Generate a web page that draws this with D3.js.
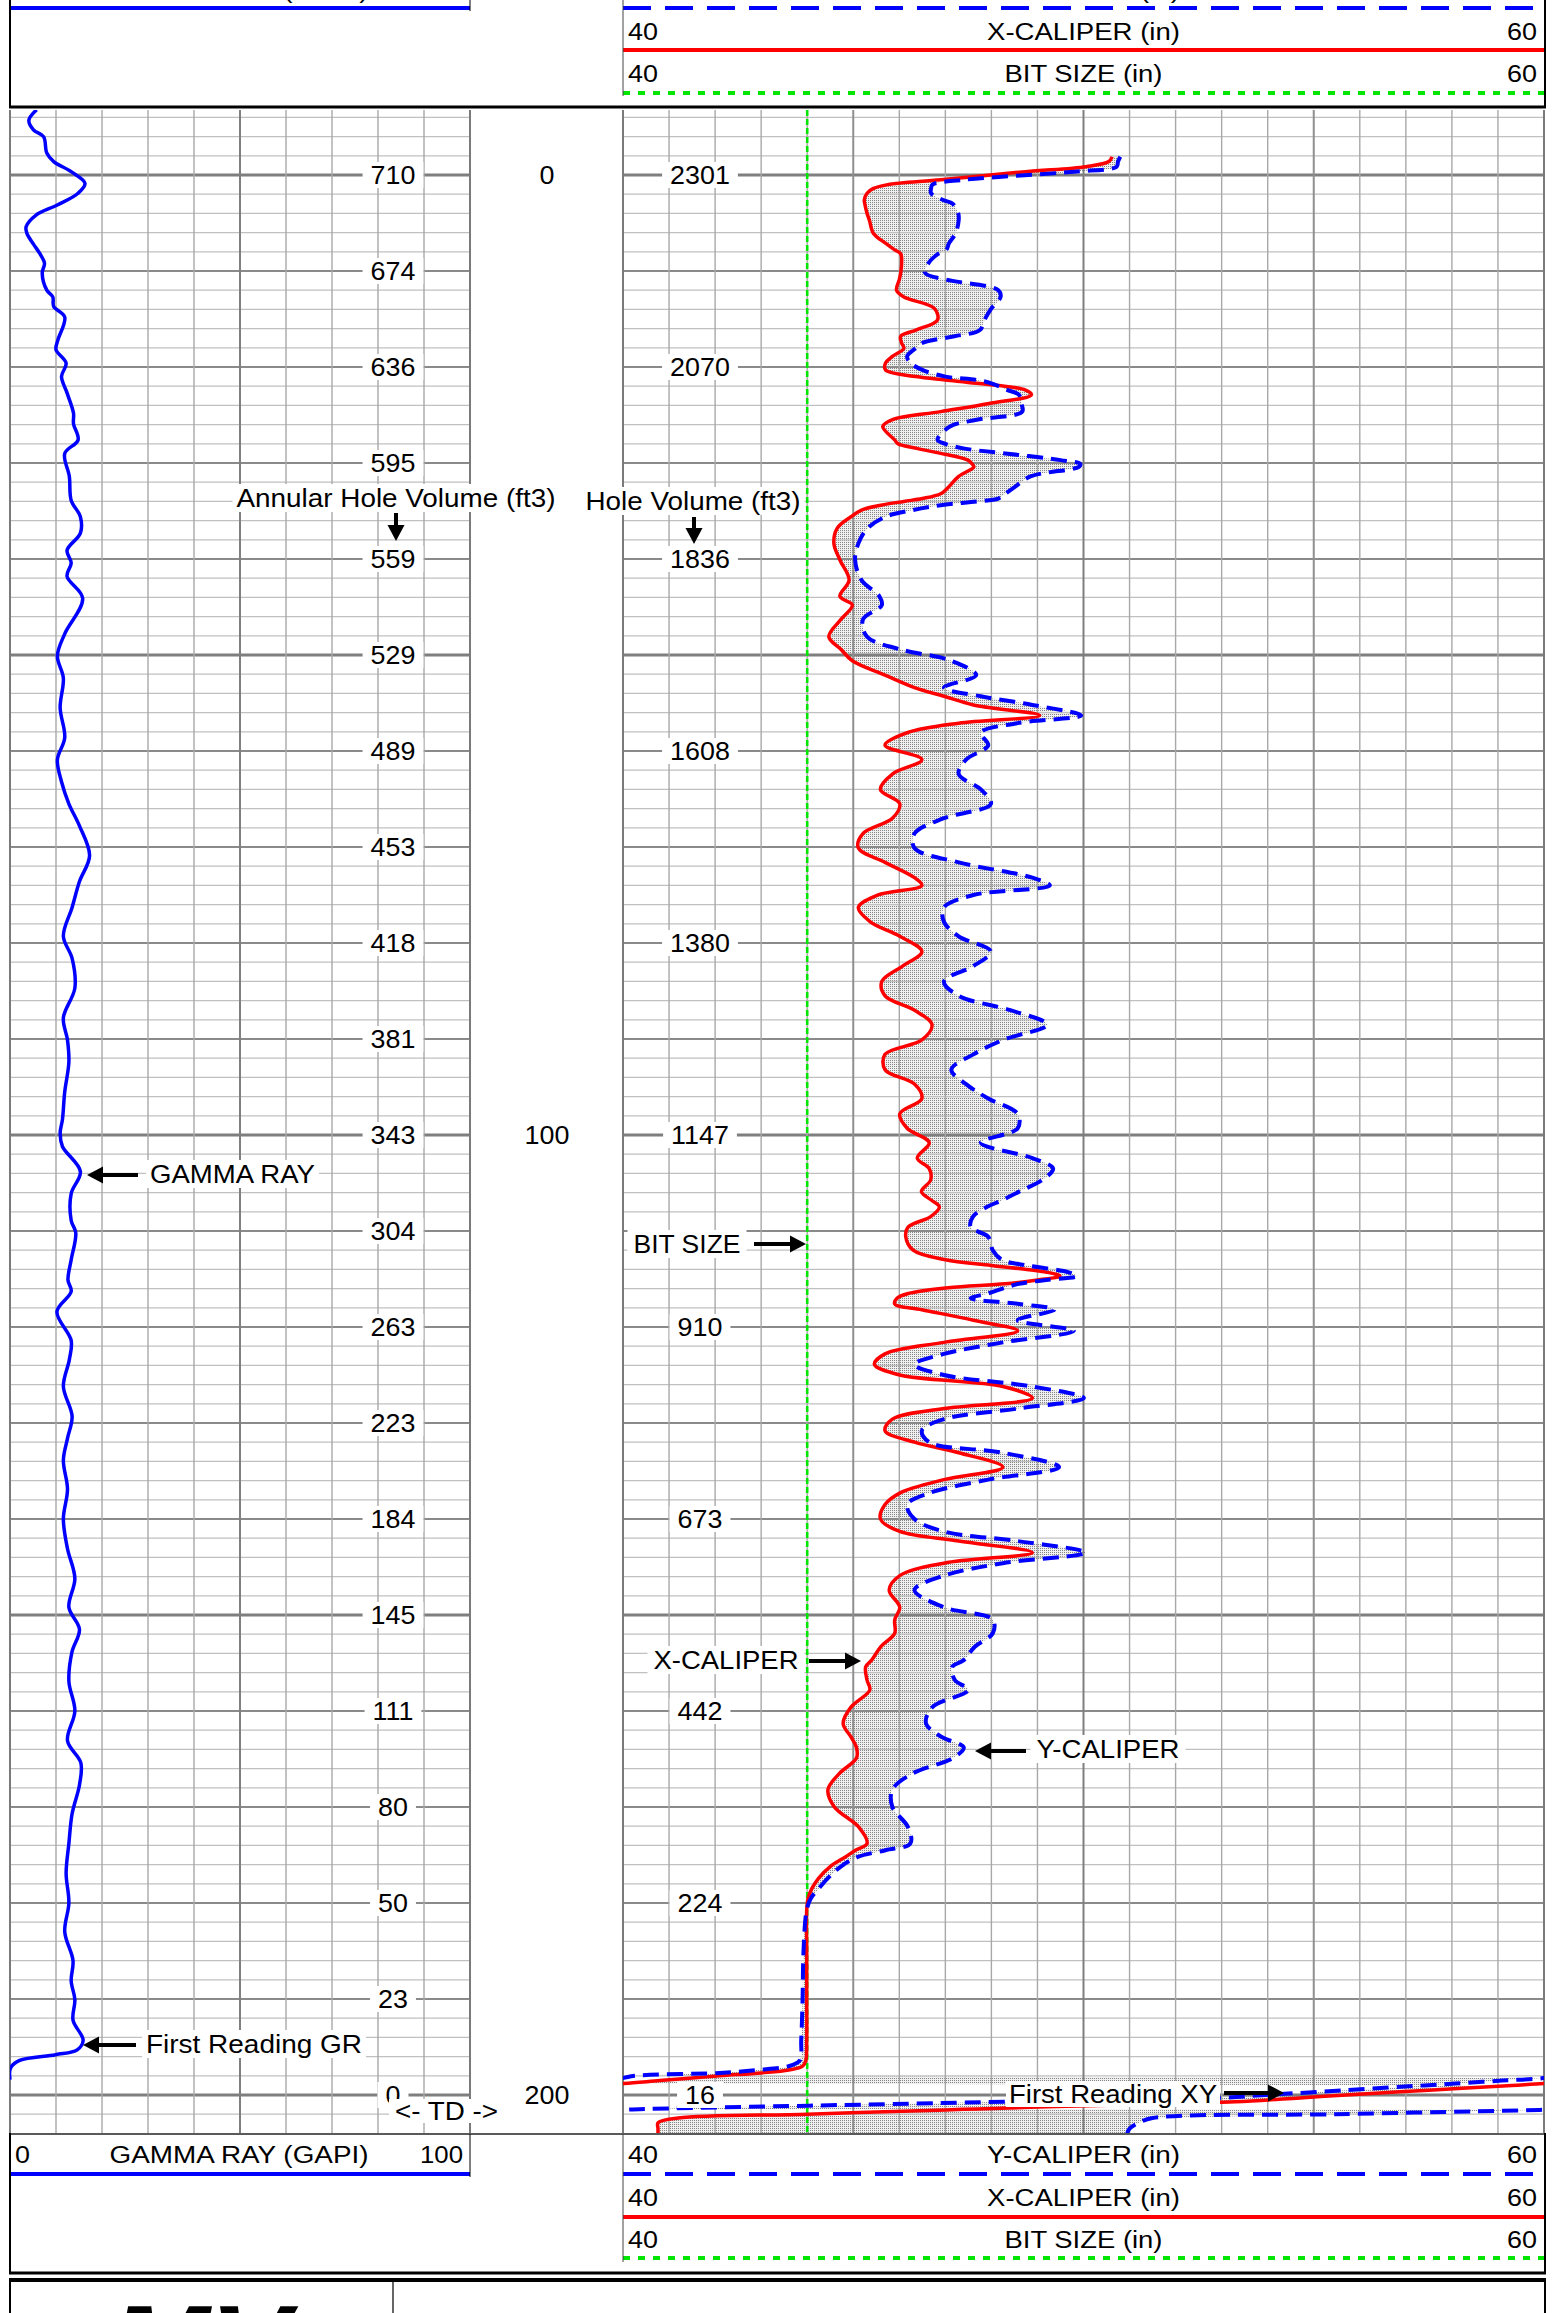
<!DOCTYPE html>
<html>
<head>
<meta charset="utf-8">
<script src="https://cdn.jsdelivr.net/npm/d3@7"></script>
<style>
  html, body { margin: 0; padding: 0; background: #fff; }
  svg { display: block; }
  text { font-family: "Liberation Sans", Arial, Helvetica, sans-serif; fill: #000; }
</style>
</head>
<body>
<svg id="log" width="1553" height="2313"></svg>
<script>
// ---------------- Gamma ray (GAPI) against depth index ----------------
const grDepth = [-6.8, -5.7, -4.7, -4.0, -2.3, -1.4, -0.35, 0.87, 1.9, 3.1,
  4.2, 5.4, 6.1, 7.2, 8.2, 9.2, 10.2, 12.0, 12.7, 13.7,
  14.8, 17.2, 18.2, 19.6, 21.0, 22.7, 24.8, 25.9, 27.6, 29.0,
  31.4, 33.9, 35.6, 37.3, 39.1, 40.4, 41.8, 44.1, 47.8, 50.1,
  52.4, 55.5, 58.6, 60.9, 63.2, 65.5, 67.8, 70.9, 73.6, 76.3,
  79.3, 81.6, 84.7, 87.8, 90.1, 92.4, 95.5, 98.4, 99.8, 101.2,
  103.8, 106.1, 108.9, 110.2, 113.0, 115.1, 116.3, 118.4, 121.4, 123.4,
  126.2, 129.3, 131.6, 133.9, 136.9, 140.0, 143.1, 146.2, 149.2, 151.5,
  153.8, 156.9, 160.0, 163.1, 165.4, 167.7, 170.7, 173.8, 176.9, 180.0,
  183.0, 186.0, 188.1, 190.1, 192.2, 194.3, 195.3, 195.8, 196.4, 197.2,
  198.4];
const grValue = [5.8, 4.1, 5.1, 7.3, 8.0, 9.5, 13.3, 16.3, 14.8, 10.4,
  5.6, 3.5, 3.7, 5.1, 6.5, 7.5, 7.0, 8.0, 9.3, 9.5,
  11.9, 10.4, 10.0, 12.2, 11.2, 12.4, 13.8, 13.8, 14.8, 11.9,
  12.9, 13.3, 15.3, 15.3, 12.4, 13.3, 12.4, 15.8, 11.9, 10.3,
  11.6, 10.9, 11.9, 10.3, 11.2, 12.8, 15.1, 17.3, 15.1, 13.5,
  11.6, 13.5, 14.1, 11.6, 12.5, 12.8, 11.9, 11.4, 10.9, 11.4,
  15.3, 13.3, 13.3, 14.3, 13.3, 12.6, 13.3, 10.2, 13.3, 12.9,
  11.6, 13.5, 12.5, 11.6, 12.5, 11.6, 12.5, 14.1, 12.8, 15.1,
  13.5, 12.8, 14.1, 12.5, 15.4, 15.1, 13.5, 12.8, 12.2, 12.8,
  11.9, 13.7, 13.3, 14.1, 13.7, 15.9, 14.6, 9.9, 2.1, 0.1,
  0.0];

// ---------------- Calipers (in) against depth index ----------------
const calDepth = [-1.9, -1.4, -0.87, -0.35, 0.5, 1.0, 1.4, 1.9, 2.6, 3.0,
  4.0, 4.7, 6.1, 7.1, 7.8, 8.2, 9.2, 10.2, 10.9, 12.0,
  12.7, 13.9, 15.1, 16.15, 16.8, 17.5, 18.06, 18.9, 19.6, 20.3,
  21.0, 21.35, 21.7, 22.4, 22.9, 23.8, 24.65, 25.5, 26.2, 27.6,
  28.0, 28.5, 29.0, 29.7, 30.1, 30.4, 31.4, 32.6, 33.2, 33.7,
  34.0, 34.4, 34.9, 35.6, 36.8, 38.4, 40.1, 42.2, 43.9, 44.8,
  46.3, 48.1, 49.4, 50.6, 52.1, 53.4, 54.3, 55.2, 56.3, 57.1,
  58.1, 59.4, 60.9, 62.4, 64.0, 65.5, 67.0, 68.6, 70.1, 71.6,
  73.2, 74.0, 75.0, 76.3, 77.8, 79.3, 80.9, 82.4, 84.0, 85.5,
  87.0, 88.5, 90.1, 91.6, 93.2, 94.7, 96.2, 97.8, 99.3, 100.8,
  102.4, 103.5, 104.7, 105.9, 106.8, 107.5, 108.5, 109.6, 110.6, 112.0,
  113.0, 113.6, 114.3, 114.7, 115.1, 115.5, 115.9, 116.5, 117.0, 117.6,
  118.2, 119.3, 120.4, 121.6, 122.8, 123.9, 125.0, 126.2, 127.4, 128.5,
  129.6, 130.8, 132.0, 133.1, 134.6, 135.9, 137.3, 138.5, 140.0, 141.3,
  142.3, 143.5, 144.6, 145.9, 147.4, 149.2, 150.5, 151.9, 153.3, 154.7,
  155.4, 156.8, 157.8, 159.6, 161.3, 162.7, 163.8, 164.9, 166.5, 168.2,
  170.0, 172.1, 173.8, 174.5, 175.2, 176.2, 177.4, 178.5, 179.5, 180.7,
  185.0, 190.0, 194.3, 196.4, 197.0, 197.4, 197.7, 198.0, 198.24, 198.5,
  198.8, 199.0, 199.5, 200.0, 200.3, 200.7, 201.0, 201.2, 201.45, 201.55,
  202.0, 202.4, 202.9, 203.5, 204.0];
const xCaliper = [50.62, 50.55, 50.06, 48.74, 46.90, 45.75, 45.44, 45.30, 45.24, 45.25,
  45.30, 45.35, 45.44, 45.70, 45.90, 46.03, 46.05, 46.03, 46.00, 45.94,
  46.10, 46.76, 46.83, 46.36, 46.03, 46.05, 46.10, 45.85, 45.70, 45.70,
  46.36, 47.00, 47.68, 48.74, 48.87, 47.95, 46.90, 45.84, 45.64, 45.90,
  45.97, 46.40, 46.90, 47.49, 47.58, 47.62, 47.29, 47.05, 46.90, 46.50,
  46.10, 45.60, 45.18, 44.95, 44.65, 44.58, 44.71, 44.91, 44.71, 44.98,
  44.73, 44.47, 44.73, 44.98, 45.69, 46.33, 46.97, 47.61, 49.05, 47.29,
  46.17, 45.69, 46.49, 45.85, 45.59, 46.01, 45.85, 45.21, 45.11, 45.69,
  46.33, 46.49, 45.53, 45.11, 45.37, 46.01, 46.49, 46.07, 45.62, 45.69,
  46.33, 46.71, 46.49, 45.69, 45.69, 46.33, 46.49, 46.01, 46.17, 46.65,
  46.39, 46.65, 46.68, 46.48, 46.70, 46.87, 46.68, 46.19, 46.14, 46.30,
  47.00, 48.00, 49.20, 49.49, 49.00, 48.30, 47.06, 46.20, 45.95, 45.90,
  46.49, 47.61, 48.57, 46.97, 45.69, 45.46, 46.01, 48.25, 48.89, 46.97,
  45.85, 45.69, 46.33, 47.29, 48.25, 46.97, 46.01, 45.69, 45.59, 46.01,
  47.29, 48.89, 46.97, 46.01, 45.78, 46.01, 45.90, 45.90, 45.60, 45.40,
  45.27, 45.30, 45.36, 44.95, 44.78, 44.95, 45.07, 45.07, 44.70, 44.45,
  44.59, 45.12, 45.30, 45.05, 44.83, 44.50, 44.25, 44.10, 44.02, 43.99,
  43.99, 43.99, 43.99, 43.97, 43.90, 43.60, 43.00, 42.10, 41.50, 40.80,
  40.02, 39.30, 37.50, 35.70, 34.70, 33.30, 31.20, 29.40, 27.70, 27.00,
  24.00, 21.20, 20.76, 20.76, 20.76];
const yCaliper = [50.80, 50.75, 50.72, 49.80, 47.40, 46.72, 46.69, 46.69, 46.95, 47.16,
  47.28, 47.29, 47.22, 47.08, 47.02, 46.85, 46.63, 46.56, 47.02, 48.15,
  48.20, 48.00, 47.85, 47.75, 47.20, 46.50, 46.35, 46.17, 46.25, 46.50,
  47.00, 47.68, 48.00, 48.35, 48.60, 48.65, 48.67, 47.68, 47.10, 46.83,
  47.00, 47.42, 48.30, 49.50, 49.93, 49.90, 48.85, 48.48, 48.30, 48.15,
  47.70, 46.90, 46.30, 45.70, 45.31, 45.11, 45.04, 45.18, 45.57, 45.62,
  45.21, 45.30, 46.01, 47.13, 47.67, 46.97, 47.77, 48.89, 49.95, 48.57,
  47.77, 47.93, 47.45, 47.29, 47.77, 47.99, 46.97, 46.33, 46.33, 47.29,
  48.89, 49.27, 47.61, 46.97, 46.97, 47.29, 47.99, 47.61, 46.97, 47.29,
  48.41, 49.21, 48.25, 47.61, 47.13, 47.45, 47.93, 48.57, 48.57, 47.77,
  48.89, 49.34, 49.10, 48.60, 48.23, 47.90, 47.60, 47.55, 47.93, 48.03,
  48.23, 48.80, 49.68, 49.85, 49.19, 48.60, 48.30, 47.93, 47.55, 48.60,
  49.37, 48.57, 49.79, 48.25, 46.97, 46.33, 46.97, 48.89, 50.01, 48.57,
  46.97, 46.49, 46.65, 48.25, 49.47, 47.93, 46.65, 46.17, 46.33, 46.97,
  48.57, 50.04, 48.25, 46.97, 46.33, 46.97, 48.03, 48.03, 47.64, 47.40,
  47.15, 47.21, 47.50, 46.72, 46.58, 46.92, 47.40, 47.16, 46.29, 45.85,
  45.85, 46.19, 46.24, 45.70, 45.10, 44.73, 44.45, 44.25, 44.08, 43.99,
  43.92, 43.90, 43.87, 43.84, 43.60, 42.90, 42.10, 40.25, 39.98, 39.10,
  38.08, 37.40, 35.70, 33.95, 32.96, 28.34, 25.20, 23.10, 20.50, 19.90,
  15.50, 11.50, 11.20, 11.00, 10.95];
const bitSize = 44;

// ---------------- Depth-track annotations ----------------
const annularDepths = d3.range(0, 201, 10);
const annularVolume = [710, 674, 636, 595, 559, 529, 489, 453, 418, 381, 343,
  304, 263, 223, 184, 145, 111, 80, 50, 23, 0];
const holeDepths = d3.range(0, 201, 20);
const holeVolume = [2301, 2070, 1836, 1608, 1380, 1147, 910, 673, 442, 224, 16];
const depthMarks = [0, 100, 200];

// ---------------- Layout ----------------
const svg = d3.select('#log');
const trackTop = 110, trackBottom = 2134;
const y = d3.scaleLinear().domain([0, 200]).range([175, 2095]);
const xGR = d3.scaleLinear().domain([0, 100]).range([10, 470]);
const xCal = d3.scaleLinear().domain([40, 60]).range([623, 1544]);
const dataFont = 25.6, headFont = 23.3;
const BLUE = '#0000ff', RED = '#ff0000', GREEN = '#00e600';

const defs = svg.append('defs');
const pat = defs.append('pattern').attr('id', 'stipple')
  .attr('width', 2).attr('height', 2).attr('patternUnits', 'userSpaceOnUse');
pat.append('rect').attr('width', 2).attr('height', 2).attr('fill', '#f0f0f0');
pat.append('rect').attr('width', 1).attr('height', 1).attr('fill', '#858585');
defs.append('clipPath').attr('id', 'clipGR').append('rect')
  .attr('x', xGR(0)).attr('y', trackTop).attr('width', xGR(100) - xGR(0)).attr('height', trackBottom - trackTop);
defs.append('clipPath').attr('id', 'clipCal').append('rect')
  .attr('x', xCal(40)).attr('y', trackTop).attr('width', xCal(60) - xCal(40)).attr('height', trackBottom - trackTop);

svg.append('rect').attr('width', 1553).attr('height', 2313).attr('fill', '#fff');

// ---------------- Caliper fill (stipple between X and Y) ----------------
const calRows = calDepth.map((d, i) => ({ d, x: xCaliper[i], y: yCaliper[i] }));
const wrapCal = v => 40 + (((v - 40) % 20) + 20) % 20;
const smooth = d3.curveCatmullRom.alpha(0.5);
const fillG = svg.append('g').attr('clip-path', 'url(#clipCal)');
fillG.append('path')
  .datum(calRows.filter(r => r.d <= 197.7))
  .attr('fill', 'url(#stipple)')
  .attr('d', d3.area().curve(smooth).y(r => y(r.d)).x0(r => xCal(r.x)).x1(r => xCal(r.y)));
fillG.append('path')
  .datum(calRows.filter(r => r.d >= 197.7))
  .attr('fill', 'url(#stipple)')
  .attr('d', d3.area().y(r => y(r.d)).x0(r => xCal(wrapCal(r.x))).x1(r => xCal(wrapCal(r.y))));

// ---------------- Grid ----------------
const grid = svg.append('g');
const hLevels = d3.range(-6, 204, 2);
function hStyle(d) {
  if (d % 50 === 0) return { c: '#7f7f7f', w: 3 };
  if (d % 10 === 0) return { c: '#8a8a8a', w: 2 };
  return { c: '#c0c0c0', w: 1.2 };
}
[[xGR(0), xGR(100)], [xCal(40), xCal(60)]].forEach(([a, b]) => {
  grid.selectAll(null).data(hLevels).join('line')
    .attr('x1', a).attr('x2', b)
    .attr('y1', d => y(d)).attr('y2', d => y(d))
    .attr('stroke', d => hStyle(d).c).attr('stroke-width', d => hStyle(d).w);
});
grid.selectAll(null).data(d3.range(10, 100, 10)).join('line')
  .attr('x1', d => xGR(d)).attr('x2', d => xGR(d))
  .attr('y1', trackTop).attr('y2', trackBottom)
  .attr('stroke', d => d === 50 ? '#7f7f7f' : '#a8a8a8')
  .attr('stroke-width', d => d === 50 ? 2 : 1.4);
grid.selectAll(null).data(d3.range(41, 60, 1)).join('line')
  .attr('x1', d => xCal(d)).attr('x2', d => xCal(d))
  .attr('y1', trackTop).attr('y2', trackBottom)
  .attr('stroke', d => d === 50 ? '#7f7f7f' : (d % 5 === 0 ? '#8f8f8f' : '#a8a8a8'))
  .attr('stroke-width', d => d % 5 === 0 ? 2 : 1.4);
grid.selectAll(null).data([xGR(0), xGR(100), xCal(40), xCal(60)]).join('line')
  .attr('x1', d => d).attr('x2', d => d)
  .attr('y1', trackTop).attr('y2', trackBottom)
  .attr('stroke', '#7a7a7a').attr('stroke-width', 2);

// ---------------- Curves ----------------
svg.append('line')
  .attr('x1', xCal(bitSize)).attr('x2', xCal(bitSize))
  .attr('y1', trackTop).attr('y2', trackBottom)
  .attr('stroke', GREEN).attr('stroke-width', 2.6).attr('stroke-dasharray', '6,3');

svg.append('path')
  .attr('clip-path', 'url(#clipGR)')
  .attr('fill', 'none').attr('stroke', BLUE).attr('stroke-width', 3.5)
  .attr('stroke-linejoin', 'round')
  .attr('d', d3.line().curve(smooth).x((v, i) => xGR(v)).y((v, i) => y(grDepth[i]))(grValue));

// calipers are drawn on wrapped (back-up) scales: each wrap shifts the reading by 20 in
const curveG = svg.append('g').attr('clip-path', 'url(#clipCal)');
function caliperLine(vals, k) {
  return d3.line().curve(smooth).x(v => xCal(v + 20 * k)).y((v, i) => y(calDepth[i]))(vals);
}
[0, 1].forEach(k => curveG.append('path')
  .attr('fill', 'none').attr('stroke', RED).attr('stroke-width', 3.5)
  .attr('stroke-linejoin', 'round').attr('d', caliperLine(xCaliper, k)));
[0, 1, 2].forEach(k => curveG.append('path')
  .attr('fill', 'none').attr('stroke', BLUE).attr('stroke-width', 4)
  .attr('stroke-dasharray', '16,8').attr('d', caliperLine(yCaliper, k)));

// ---------------- Text helpers ----------------
function label(g, str, x, yb, o) {
  const t = g.append('text').attr('x', x).attr('y', yb)
    .attr('text-anchor', o.anchor || 'middle')
    .style('font-size', o.size + 'px').text(str);
  const nat = t.node().getComputedTextLength();
  const len = o.width || nat * (o.stretch || 1);
  if (Math.abs(len - nat) > 0.5) t.attr('textLength', len).attr('lengthAdjust', 'spacingAndGlyphs');
  if (o.box) {
    const bb = t.node().getBBox();
    g.insert('rect', () => t.node())
      .attr('x', bb.x - o.box[0]).attr('y', bb.y - o.box[1])
      .attr('width', bb.width + 2 * o.box[0]).attr('height', bb.height + 2 * o.box[1])
      .attr('fill', '#fff');
  }
  return t;
}
function arrow(g, x1, y1, x2, y2) {
  const head = 16, half = 8.5;
  const ang = Math.atan2(y2 - y1, x2 - x1);
  const bx = x2 - head * Math.cos(ang), by = y2 - head * Math.sin(ang);
  g.append('line').attr('x1', x1).attr('y1', y1).attr('x2', bx).attr('y2', by)
    .attr('stroke', '#000').attr('stroke-width', 4);
  const px = -Math.sin(ang) * half, py = Math.cos(ang) * half;
  g.append('path').attr('fill', '#000')
    .attr('d', `M${x2},${y2}L${bx + px},${by + py}L${bx - px},${by - py}Z`);
}

// ---------------- Depth labels ----------------
const lab = svg.append('g');
annularDepths.forEach((d, i) => label(lab, annularVolume[i], 393, y(d) + 9,
  { size: dataFont, stretch: 1.05, box: [8, -1] }));
holeDepths.forEach((d, i) => label(lab, holeVolume[i], 700, y(d) + 9,
  { size: dataFont, stretch: 1.05, box: [8, -1] }));
depthMarks.forEach(d => label(lab, d, 547, y(d) + 9, { size: dataFont, stretch: 1.05 }));
label(lab, '<- TD ->', 446.5, 2120, { size: dataFont, width: 103, box: [6, -2] });

// ---------------- Curve annotations ----------------
const ann = svg.append('g');
label(ann, 'Annular Hole Volume (ft3)', 396, 507, { size: dataFont, width: 319, box: [4, 0] });
arrow(ann, 396, 513, 396, 541);
label(ann, 'Hole Volume (ft3)', 693, 510, { size: dataFont, width: 215, box: [4, 0] });
arrow(ann, 694, 517, 694, 544);
label(ann, 'GAMMA RAY', 150, 1183, { size: dataFont, anchor: 'start', width: 165, box: [4, 0] });
arrow(ann, 138, 1175, 87, 1175);
label(ann, 'First Reading GR', 146, 2053, { size: dataFont, anchor: 'start', width: 216, box: [4, 0] });
arrow(ann, 136, 2045, 83, 2045);
label(ann, 'BIT SIZE', 633.5, 1253, { size: dataFont, anchor: 'start', width: 107, box: [6, 0] });
arrow(ann, 754, 1244, 806, 1244);
label(ann, 'X-CALIPER', 653.5, 1669, { size: dataFont, anchor: 'start', width: 145, box: [6, 0] });
arrow(ann, 809, 1661, 861, 1661);
label(ann, 'Y-CALIPER', 1036.5, 1758, { size: dataFont, anchor: 'start', width: 143, box: [6, 0] });
arrow(ann, 1026, 1751, 975, 1751);
label(ann, 'First Reading XY', 1009, 2103, { size: dataFont, anchor: 'start', width: 208, box: [3, -1] });
arrow(ann, 1224, 2093, 1284, 2093);

// ---------------- Headers ----------------
const hdr = svg.append('g');
function hline(x1, x2, yy, color, w, dash) {
  const l = hdr.append('line').attr('x1', x1).attr('x2', x2).attr('y1', yy).attr('y2', yy)
    .attr('stroke', color).attr('stroke-width', w);
  if (dash) l.attr('stroke-dasharray', dash);
}
function vline(xx, y1, y2, color, w) {
  hdr.append('line').attr('x1', xx).attr('x2', xx).attr('y1', y1).attr('y2', y2)
    .attr('stroke', color).attr('stroke-width', w);
}
function scaleRow(base, name, nameWidth) {
  label(hdr, '40', 628, base, { size: headFont, anchor: 'start', width: 30 });
  label(hdr, name, 1083.5, base, { size: headFont, width: nameWidth });
  label(hdr, '60', 1537, base, { size: headFont, anchor: 'end', width: 30 });
}
const dashY = '28,14', dashBit = '7,8';

// top header
label(hdr, 'GAMMA RAY (GAPI)', 239, -2, { size: headFont, width: 259 });
label(hdr, 'Y-CALIPER (in)', 1083.5, -2, { size: headFont, width: 193 });
hline(xGR(0), xGR(100), 8, BLUE, 4);
hline(xCal(40), xCal(60), 8, BLUE, 4, dashY);
scaleRow(40, 'X-CALIPER (in)', 193);
hline(xCal(40), xCal(60), 50, RED, 4);
scaleRow(82, 'BIT SIZE (in)', 158);
hline(xCal(40), xCal(60), 93, GREEN, 4, dashBit);
vline(470, 0, 11, '#000', 1);
vline(623, 0, 96, '#444', 1);
vline(10, 0, 108, '#000', 2);
vline(1545, 0, 108, '#000', 2);
hline(9, 1546, 107, '#000', 3);

// bottom header
hline(9, 1546, 2134, '#5a5a5a', 2);
label(hdr, '0', 15, 2163, { size: headFont, anchor: 'start', width: 15 });
label(hdr, 'GAMMA RAY (GAPI)', 239, 2163, { size: headFont, width: 259 });
label(hdr, '100', 463, 2163, { size: headFont, anchor: 'end', width: 43 });
scaleRow(2163, 'Y-CALIPER (in)', 193);
hline(xGR(0), xGR(100), 2174, BLUE, 4);
hline(xCal(40), xCal(60), 2174, BLUE, 4, dashY);
scaleRow(2206, 'X-CALIPER (in)', 193);
hline(xCal(40), xCal(60), 2217, RED, 4);
scaleRow(2248, 'BIT SIZE (in)', 158);
hline(xCal(40), xCal(60), 2258, GREEN, 4, dashBit);
vline(470, 2134, 2177, '#000', 1);
vline(623, 2134, 2262, '#444', 1);
vline(10, 2133, 2274, '#000', 2);
vline(1545, 2133, 2274, '#000', 2);
hline(9, 1546, 2273, '#000', 3);

// company box
hline(9, 1546, 2280, '#000', 4);
vline(10, 2278, 2313, '#000', 2);
vline(1545, 2278, 2313, '#000', 2);
vline(393, 2280, 2313, '#000', 1.2);
hdr.append('text').attr('x', 110).attr('y', 2388)
  .style('font-size', '118px').style('font-weight', 'bold').style('font-style', 'italic')
  .attr('textLength', 180).attr('lengthAdjust', 'spacingAndGlyphs').text('MV');
</script>
</body>
</html>
